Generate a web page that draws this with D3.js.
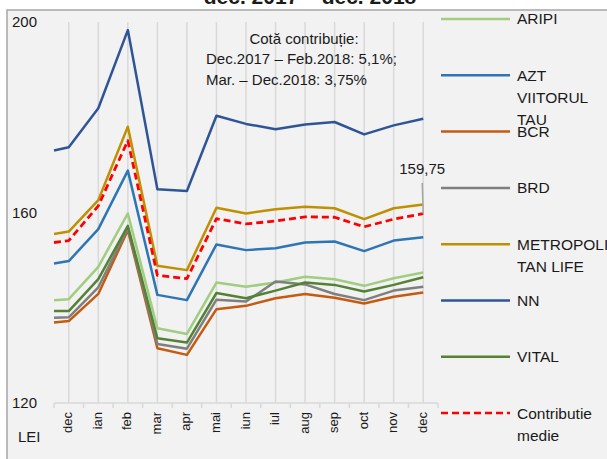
<!DOCTYPE html>
<html>
<head>
<meta charset="utf-8">
<script src="https://cdn.jsdelivr.net/npm/d3@7"></script>
<style>
  body { margin: 0; background: #fff; }
  text { font-family: "Liberation Sans", Arial, sans-serif; fill: #1a1a1a; }
</style>
</head>
<body>
<script>
// month labels on the x axis (first point of each series sits at the left edge, unlabeled)
var months = ['dec', 'ian', 'feb', 'mar', 'apr', 'mai', 'iun', 'iul', 'aug', 'sep', 'oct', 'nov', 'dec'];
var yTicks = [120, 160, 200];

// series values: start point + 13 months
var aripi   = [141.6, 141.8, 148.6, 159.8, 135.7, 134.5, 145.3, 144.4, 145.3, 146.5, 146.0, 144.6, 146.2, 147.4];
var azt     = [149.3, 149.8, 156.5, 168.8, 142.7, 141.6, 153.3, 152.1, 152.5, 153.7, 153.9, 151.9, 154.1, 154.8];
var bcr     = [136.9, 137.2, 142.9, 156.3, 131.5, 130.1, 139.7, 140.4, 142.0, 142.9, 142.1, 140.9, 142.3, 143.2];
var brd     = [137.9, 138.0, 144.3, 156.7, 132.4, 131.4, 141.7, 141.3, 145.5, 144.9, 142.9, 141.6, 143.6, 144.4];
var metro   = [155.5, 156.0, 162.6, 178.0, 148.8, 147.9, 161.0, 159.8, 160.7, 161.2, 160.9, 158.6, 160.9, 161.7];
var nn      = [173.0, 173.7, 181.9, 198.3, 164.9, 164.5, 180.3, 178.6, 177.5, 178.5, 179.0, 176.4, 178.3, 179.7];
var vital   = [139.3, 139.3, 146.0, 157.2, 133.6, 132.7, 143.1, 142.0, 143.6, 145.3, 144.8, 143.4, 144.8, 146.4];
var contrib = [153.7, 154.1, 161.4, 175.1, 146.8, 146.1, 158.7, 157.6, 158.2, 159.1, 159.0, 157.0, 158.6, 159.75];

var series = [
  { name: ['ARIPI'], values: aripi, color: '#a0cd80' },
  { name: ['AZT', 'VIITORUL', 'TAU'], values: azt, color: '#2e75b6' },
  { name: ['BCR'], values: bcr, color: '#c55a11' },
  { name: ['BRD'], values: brd, color: '#7f7f7f' },
  { name: ['METROPOLI', 'TAN LIFE'], values: metro, color: '#bf9000' },
  { name: ['NN'], values: nn, color: '#2f5597' },
  { name: ['VITAL'], values: vital, color: '#548235' },
  { name: ['Contributie', 'medie'], values: contrib, color: '#ff0000', dash: '7,4' }
];

var svg_width = 607, svg_height = 459;
var svg = d3.select('body').append('svg')
  .attr('width', svg_width)
  .attr('height', svg_height);

// chart background + border
svg.append('rect')
  .attr('x', 7).attr('y', 10)
  .attr('width', 640).attr('height', 480)
  .attr('fill', '#f2f2f2')
  .attr('stroke', '#a6a6a6')
  .attr('stroke-width', 1.5);

// title (cut off at the top in the original)
svg.append('text')
  .attr('x', 310).attr('y', 4)
  .attr('text-anchor', 'middle')
  .style('font-weight', 'bold')
  .style('font-size', '21px')
  .text('dec. 2017 – dec. 2018');

var x = d3.scaleBand()
  .domain(d3.range(months.length))
  .range([54, 438]);

var y = d3.scaleLinear()
  .domain([120, 200])
  .range([403, 22]);

var xPos = function(i) {
  return i === 0 ? x.range()[0] : x(i - 1) + x.bandwidth() / 2;
};

// vertical gridlines at category centres
svg.selectAll('line.grid')
  .data(months)
  .enter().append('line')
  .attr('class', 'grid')
  .attr('x1', function(d, i) { return x(i) + x.bandwidth() / 2; })
  .attr('x2', function(d, i) { return x(i) + x.bandwidth() / 2; })
  .attr('y1', y(200))
  .attr('y2', y(120))
  .attr('stroke', '#d9d9d9')
  .attr('stroke-width', 1.5);

// x axis line + tick marks between categories
svg.append('line')
  .attr('x1', x.range()[0]).attr('x2', x.range()[1])
  .attr('y1', y(120)).attr('y2', y(120))
  .attr('stroke', '#d9d9d9').attr('stroke-width', 1.5);

var bounds = d3.range(months.length + 1).map(function(i) {
  return i < months.length ? x(i) : x.range()[1];
});
svg.selectAll('line.xtick')
  .data(bounds)
  .enter().append('line')
  .attr('class', 'xtick')
  .attr('x1', function(d) { return d; })
  .attr('x2', function(d) { return d; })
  .attr('y1', y(120))
  .attr('y2', y(120) + 5)
  .attr('stroke', '#d9d9d9').attr('stroke-width', 1.5);

// month labels, rotated
svg.selectAll('text.month')
  .data(months)
  .enter().append('text')
  .attr('class', 'month')
  .attr('text-anchor', 'end')
  .attr('dy', '0.35em')
  .style('font-size', '13px')
  .attr('transform', function(d, i) {
    return 'translate(' + (x(i) + x.bandwidth() / 2 - 1) + ',' + (y(120) + 9) + ') rotate(-90)';
  })
  .text(function(d) { return d; });

// y tick labels
svg.selectAll('text.ytick')
  .data(yTicks)
  .enter().append('text')
  .attr('class', 'ytick')
  .attr('x', 12)
  .attr('y', function(d) { return y(d); })
  .attr('dy', '0.35em')
  .style('font-size', '15px')
  .text(function(d) { return d; });

svg.append('text')
  .attr('x', 18).attr('y', 437)
  .attr('dy', '0.35em')
  .style('font-size', '15px')
  .text('LEI');

// the series lines
var line = d3.line()
  .x(function(d, i) { return xPos(i); })
  .y(function(d) { return y(d); });

svg.selectAll('path.series')
  .data(series)
  .enter().append('path')
  .attr('class', 'series')
  .attr('d', function(s) { return line(s.values); })
  .attr('fill', 'none')
  .attr('stroke', function(s) { return s.color; })
  .attr('stroke-width', function(s) { return s.dash ? 2.8 : 2.5; })
  .attr('stroke-dasharray', function(s) { return s.dash || null; })
  .attr('stroke-linejoin', 'round');

// data label for last contribution value
var lastI = contrib.length - 1;
svg.append('line')
  .attr('x1', xPos(lastI) - 1).attr('y1', 183)
  .attr('x2', xPos(lastI)).attr('y2', y(contrib[lastI]))
  .attr('stroke', '#a6a6a6').attr('stroke-width', 1.5);
svg.append('text')
  .attr('x', xPos(lastI) - 1).attr('y', 169)
  .attr('dy', '0.35em')
  .attr('text-anchor', 'middle')
  .style('font-size', '15px')
  .text('159,75');

// annotation
svg.append('text')
  .attr('x', 304).attr('y', 44)
  .attr('text-anchor', 'middle')
  .style('font-size', '15px')
  .text('Cotă contribuție:');
svg.append('text')
  .attr('x', 206).attr('y', 64)
  .style('font-size', '15px')
  .text('Dec.2017 – Feb.2018: 5,1%;');
svg.append('text')
  .attr('x', 206).attr('y', 85)
  .style('font-size', '15px')
  .text('Mar. – Dec.2018: 3,75%');

// legend
var legend = svg.selectAll('g.legend')
  .data(series)
  .enter().append('g')
  .attr('class', 'legend')
  .attr('transform', function(d, i) { return 'translate(441,' + (19 + i * 56.3) + ')'; });

legend.append('line')
  .attr('x1', 0).attr('x2', 69)
  .attr('y1', 0).attr('y2', 0)
  .attr('stroke', function(d) { return d.color; })
  .attr('stroke-width', 2.5)
  .attr('stroke-dasharray', function(d) { return d.dash || null; });

legend.each(function(d) {
  var g = d3.select(this);
  d.name.forEach(function(t, k) {
    g.append('text')
      .attr('x', 76)
      .attr('y', k * 22.3)
      .attr('dy', '0.35em')
      .style('font-size', '15.5px')
      .text(t);
  });
});
</script>
</body>
</html>
